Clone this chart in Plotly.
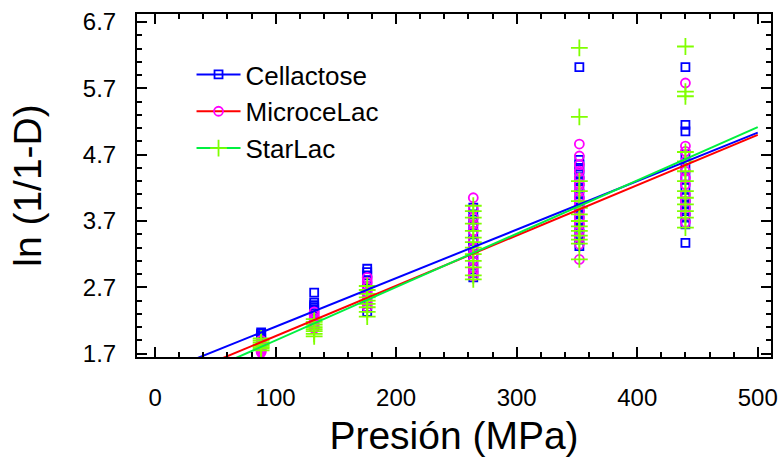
import plotly.graph_objects as go

# Pressures (MPa)
pressures = [88, 132, 176, 264, 352, 440]

cellactose = {
    88: [2.02, 2.00, 1.98, 1.96, 1.95, 1.93, 1.92, 1.90],
    132: [2.62, 2.47, 2.43, 2.40, 2.37, 2.34, 2.30, 2.25],
    176: [2.98, 2.93, 2.88, 2.80, 2.70, 2.60, 2.50, 2.40, 2.33],
    264: [3.90, 3.80, 3.72, 3.62, 3.50, 3.40, 3.30, 3.20, 3.10, 3.00, 2.92, 2.85],
    352: [6.02, 4.62, 4.55, 4.48, 4.40, 4.30, 4.20, 4.10, 4.00, 3.90, 3.80, 3.70, 3.60, 3.50, 3.42, 3.32],
    440: [6.02, 5.15, 5.05, 4.70, 4.50, 4.35, 4.20, 4.05, 3.95, 3.85, 3.75, 3.65, 3.37],
}
microcelac = {
    88: [1.90, 1.86, 1.83, 1.80, 1.78, 1.76, 1.74, 1.72],
    132: [2.33, 2.28, 2.24, 2.20, 2.17, 2.14, 2.10, 2.08],
    176: [2.85, 2.78, 2.70, 2.63, 2.56, 2.50, 2.45, 2.40],
    264: [4.05, 3.88, 3.75, 3.65, 3.55, 3.42, 3.30, 3.20, 3.10, 3.00, 2.93, 2.87],
    352: [4.86, 4.68, 4.55, 4.45, 4.35, 4.25, 4.15, 4.05, 3.95, 3.85, 3.75, 3.65, 3.55, 3.45, 3.35, 3.12],
    440: [5.78, 4.83, 4.75, 4.60, 4.45, 4.35, 4.25, 4.10, 4.00, 3.90, 3.80, 3.68],
}
starlac = {
    88: [1.93, 1.90, 1.87, 1.84, 1.82, 1.80, 1.78, 1.75],
    132: [2.22, 2.18, 2.14, 2.10, 2.07, 2.04, 2.00, 1.96],
    176: [2.72, 2.66, 2.60, 2.55, 2.50, 2.45, 2.40, 2.33, 2.26],
    264: [3.93, 3.85, 3.75, 3.66, 3.55, 3.45, 3.38, 3.30, 3.20, 3.10, 3.00, 2.88, 2.82],
    352: [6.31, 5.27, 4.30, 4.15, 4.00, 3.90, 3.80, 3.70, 3.62, 3.55, 3.48, 3.42, 3.36, 3.12],
    440: [6.33, 5.65, 5.58, 4.74, 4.60, 4.45, 4.30, 4.15, 4.05, 3.95, 3.85, 3.75, 3.60],
}

# Regression lines: (intercept, slope)
fit_cellactose = (1.377, 0.00731)
fit_microcelac = (1.208, 0.00758)
fit_starlac = (1.096, 0.00804)
fit_x = [0, 500]

series_names = ["Cellactose", "MicroceLac", "StarLac"]
x_ticks = [0, 100, 200, 300, 400, 500]
y_ticks = [1.7, 2.7, 3.7, 4.7, 5.7, 6.7]

styles = [
    dict(data=cellactose, fit=fit_cellactose, line="#0000FF", mk="#0000FF", sym="square-open", size=8),
    dict(data=microcelac, fit=fit_microcelac, line="#FF0000", mk="#FF00FF", sym="circle-open", size=9),
    dict(data=starlac, fit=fit_starlac, line="#00F040", mk="#80FF00", sym="cross-thin-open", size=12),
]

fig = go.Figure()
for name, st in zip(series_names, styles):
    xs, ys = [], []
    for p in pressures:
        for v in st["data"][p]:
            xs.append(p)
            ys.append(v)
    fig.add_trace(go.Scatter(x=xs, y=ys, mode="markers", showlegend=False,
                             marker=dict(symbol=st["sym"], size=st["size"], color=st["mk"],
                                         line=dict(color=st["mk"], width=1.8))))
for name, st in zip(series_names, styles):
    b0, b1 = st["fit"]
    fig.add_trace(go.Scatter(x=fit_x, y=[b0 + b1 * x for x in fit_x], mode="lines", showlegend=False,
                             line=dict(color=st["line"], width=2)))
for name, st in zip(series_names, styles):
    fig.add_trace(go.Scatter(x=[None], y=[None], mode="lines+markers", name=name,
                             line=dict(color=st["line"], width=2),
                             marker=dict(symbol=st["sym"], size=st["size"], color=st["mk"],
                                         line=dict(color=st["mk"], width=1.8))))

font = "Liberation Sans, Arial, sans-serif"
fig.update_layout(
    width=780, height=464,
    margin=dict(l=137, r=9, t=14, b=107),
    paper_bgcolor="white", plot_bgcolor="white",
    font=dict(family=font, color="black"),
    legend=dict(x=0.086, y=0.892, xanchor="left", yanchor="top", bgcolor="rgba(0,0,0,0)",
                font=dict(size=26, family=font), tracegroupgap=0, itemwidth=44),
    xaxis=dict(range=[-15, 511], tickvals=x_ticks, ticktext=[str(t) for t in x_ticks],
               ticks="inside", ticklen=10, tickwidth=2, tickcolor="black",
               minor=dict(dtick=20, ticks="inside", ticklen=5, tickwidth=1.5, tickcolor="black"),
               showline=True, linewidth=2, linecolor="black", mirror="allticks",
               showgrid=False, zeroline=False, tickfont=dict(size=24), automargin=False,
               ticklabelstandoff=18,
               title=dict(text="Presión (MPa)", font=dict(size=39), standoff=12)),
    yaxis=dict(range=[1.65, 6.82], tickvals=y_ticks, ticktext=[f"{t:.1f}" for t in y_ticks],
               ticks="inside", ticklen=10, tickwidth=2, tickcolor="black",
               minor=dict(tick0=1.7, dtick=0.2, ticks="inside", ticklen=5, tickwidth=1.5, tickcolor="black"),
               showline=True, linewidth=2, linecolor="black", mirror="allticks",
               showgrid=False, zeroline=False, tickfont=dict(size=24), automargin=False,
               ticklabelstandoff=14,
               title=dict(text="ln (1/1-D)", font=dict(size=39), standoff=29)),
)

fig.write_html("out.html", config={"displayModeBar": False},
               post_script="document.body.style.margin='0';")
